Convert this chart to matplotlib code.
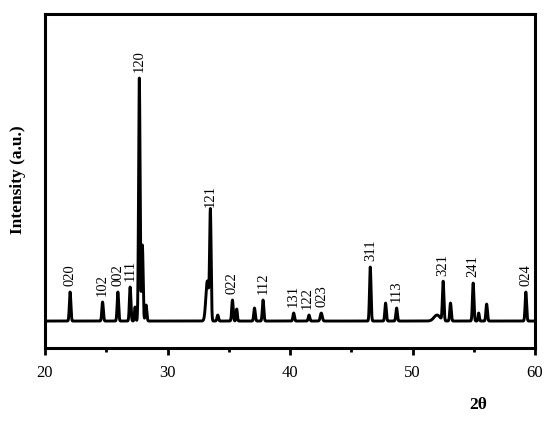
import numpy as np
import matplotlib.pyplot as plt

# peak positions (2theta), heights (a.u.) and hkl labels
peak_pos = [22.05, 24.7, 25.95, 26.95, 27.35, 27.7, 27.95, 28.25,
            33.25, 33.5, 34.1, 35.3, 35.65, 37.1, 37.8,
            40.3, 41.55, 42.55, 46.55, 47.8, 48.7,
            52.0, 52.5, 53.1, 54.95, 55.4, 56.05, 59.25]
peak_height = [29, 19, 29, 34, 14, 243, 76, 16,
               40, 108, 6, 21, 12, 13, 21,
               8, 6, 8, 54, 18, 13,
               6, 39, 18, 38, 8, 17, 29]
peak_width = [0.06, 0.06, 0.06, 0.06, 0.05, 0.06, 0.06, 0.06,
              0.12, 0.06, 0.06, 0.06, 0.05, 0.06, 0.06,
              0.06, 0.06, 0.08, 0.06, 0.06, 0.06,
              0.25, 0.06, 0.06, 0.06, 0.05, 0.06, 0.06]
peak_label = ['020', '102', '002', '111', '', '120', '', '',
              '', '121', '', '022', '', '', '112',
              '131', '122', '023', '311', '', '113',
              '', '321', '', '241', '', '', '024']

two_theta = np.linspace(20, 60, 4001)
intensity = np.zeros_like(two_theta)
for p, h, w in zip(peak_pos, peak_height, peak_width):
    intensity += h * np.exp(-0.5 * ((two_theta - p) / w) ** 2)

plt.rcParams['font.family'] = ['Liberation Serif', 'DejaVu Serif']

fig = plt.figure(figsize=(5.5, 4.26), dpi=100)
ax = fig.add_axes([0.0818, 0.183, 0.891, 0.784])
ax.plot(two_theta, intensity, color='black', lw=2.1)

# small sideways nudge so crowded labels don't touch
nudge = {'122': -1.5, '023': 0.5}
for p, h, lab in zip(peak_pos, peak_height, peak_label):
    if lab:
        ax.annotate(lab, (p, h), xytext=(nudge.get(lab, 0), 4),
                    textcoords='offset points', rotation=90,
                    ha='center', va='bottom', fontsize=10.5)

ax.set_xlim(20, 60)
ax.set_ylim(-27, 307)
ax.set_xticks([20, 30, 40, 50, 60])
ax.set_xticks([25, 35, 45, 55], minor=True)
ax.set_yticks([])
ax.tick_params(axis='x', which='major', direction='out', length=5, width=2,
               labelsize=12, pad=7)
ax.tick_params(axis='x', which='minor', direction='out', length=3, width=2)
for s in ax.spines.values():
    s.set_linewidth(2.2)

fig.text(478 / 550, 1 - 405 / 426, '2θ', fontsize=12.5, fontweight='bold',
         ha='center', va='center')
fig.text(18 / 550, 1 - 180 / 426, 'Intensity (a.u.)', fontsize=12.5,
         fontweight='bold', rotation=90, ha='center', va='center')

fig.savefig('out.png', dpi=100)
